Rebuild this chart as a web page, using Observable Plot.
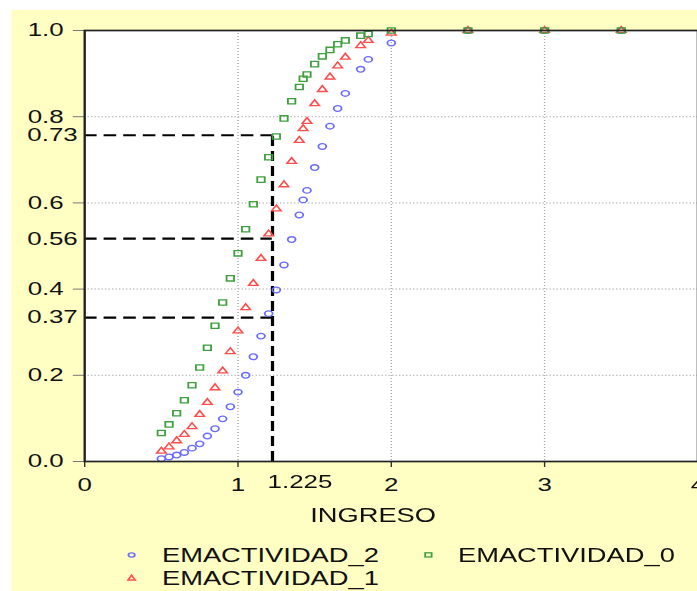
<!DOCTYPE html>
<html>
<head>
<meta charset="utf-8">
<script src="https://cdn.jsdelivr.net/npm/d3@7"></script>
<script src="https://cdn.jsdelivr.net/npm/@observablehq/plot@0.6"></script>
<style>
  html, body { margin: 0; padding: 0; background: #ffffff; overflow: hidden; width: 697px; height: 591px; }
  #wrap { position: absolute; left: 0; top: 0; width: 498px; height: 591px; transform: scaleX(1.4); transform-origin: 0 0; font-family: "Liberation Sans", Arial, sans-serif; }
  #bg { position: absolute; left: 7.86px; top: 10px; right: 0; bottom: 0; background: #ffffc4; }
  #chart { position: absolute; left: 0; top: 0; }
  .lg { position: absolute; font-size: 19.5px; line-height: 20px; color: #111; white-space: nowrap; }
  .sw { position: absolute; overflow: visible; }
</style>
</head>
<body>
<div id="wrap">
  <div id="bg"></div>
  <div id="chart"></div>
  <svg class="sw" style="left:89.6px;top:551px" width="8" height="8"><ellipse cx="4" cy="4" rx="2.3" ry="2.1" fill="none" stroke="#6b6bff" stroke-width="1.3"/></svg>
  <div class="lg" style="left:115.7px;top:545.3px">EMACTIVIDAD_2</div>
  <svg class="sw" style="left:301.7px;top:551px" width="8" height="8"><rect x="1.7" y="1.8" width="4.6" height="4.2" fill="none" stroke="#3f9f3f" stroke-width="1.3"/></svg>
  <div class="lg" style="left:327.1px;top:545.3px">EMACTIVIDAD_0</div>
  <svg class="sw" style="left:89.6px;top:573.5px" width="8" height="8"><polygon points="4,1.2 6.6,6 1.4,6" fill="none" stroke="#ff4d4d" stroke-width="1.3"/></svg>
  <div class="lg" style="left:115.7px;top:568.3px">EMACTIVIDAD_1</div>
</div>
<script>
// ---- data ----
const ingreso = [0.5,0.55,0.6,0.65,0.7,0.75,0.8,0.85,0.9,0.95,1.0,1.05,1.1,1.15,1.2,1.25,1.3,1.35,1.4,1.425,1.45,1.5,1.55,1.6,1.65,1.7,1.8,1.85,2.0,2.5,3.0,3.5];
const emactividad2 = [0.0065,0.0105,0.015,0.021,0.031,0.041,0.059,0.076,0.099,0.127,0.161,0.200,0.243,0.291,0.343,0.398,0.456,0.515,0.572,0.607,0.629,0.682,0.731,0.778,0.819,0.854,0.910,0.933,0.971,1,1,1];
const emactividad1 = [0.024,0.034,0.048,0.063,0.081,0.109,0.137,0.171,0.210,0.255,0.303,0.357,0.413,0.471,0.528,0.586,0.642,0.696,0.745,0.772,0.789,0.830,0.863,0.892,0.918,0.938,0.965,0.977,0.994,1,1,1];
const emactividad0 = [0.066,0.086,0.112,0.142,0.177,0.218,0.264,0.315,0.369,0.425,0.483,0.539,0.597,0.654,0.706,0.754,0.796,0.836,0.869,0.888,0.898,0.922,0.940,0.955,0.968,0.977,0.988,0.992,1.0,1,1,1];
const xTicks = [0,1,2,3,4];
const yTicks = [0,0.2,0.4,0.6,0.8,1.0];
const cutIngreso = 1.225;
const cutLabel = "1.225";
const refLevels = [0.757,0.517,0.334];
const refLabels = ["0.73","0.56","0.37"];
const xLabel = "INGRESO";

const rows = (ys) => ingreso.map((x, i) => ({x, y: ys[i]}));
const refs = refLevels.map((v, i) => ({v, label: refLabels[i]}));

const chart = Plot.plot({
  width: 498,
  height: 530,
  marginLeft: 60,
  marginRight: 0,
  marginTop: 30,
  marginBottom: 69,
  style: {fontFamily: '"Liberation Sans", Arial, sans-serif', fontSize: "18.5px", background: "transparent", overflow: "visible", color: "#111"},
  x: {domain: [0, 4]},
  y: {domain: [0, 1]},
  marks: [
    Plot.frame({fill: "white", stroke: "none"}),
    Plot.ruleX([1,2,3], {stroke: "#aaa", strokeWidth: 1, strokeDasharray: "1,2"}),
    Plot.ruleY([0.2,0.4,0.6,0.8], {stroke: "#aaa", strokeWidth: 1, strokeDasharray: "1,1.5"}),
    Plot.axisY({ticks: yTicks, tickFormat: d3.format(".1f"), tickSize: 8, tickPadding: 7, stroke: "#777", label: null}),
    Plot.axisX({ticks: xTicks, tickFormat: d => String(d), tickSize: 6, tickPadding: 10, stroke: "#333", label: null}),
    Plot.text(refs, {frameAnchor: "left", y: "v", text: "label", textAnchor: "end", dx: -5, fontSize: 18.5}),
    Plot.text([cutIngreso], {x: d => d, frameAnchor: "bottom", text: () => cutLabel, textAnchor: "start", lineAnchor: "top", dx: -3.5, dy: 13, fontSize: 18.5}),
    Plot.text([xLabel], {frameAnchor: "bottom", text: d => d, lineAnchor: "middle", dx: -13, dy: 54, fontSize: 19.5}),
    Plot.ruleY(refLevels, {y: d => d, x1: 0, x2: cutIngreso, stroke: "black", strokeWidth: 2.2, strokeDasharray: "9,5"}),
    Plot.ruleX([cutIngreso], {x: d => d, y1: 0, y2: refLevels[0], stroke: "black", strokeWidth: 2.3, strokeDasharray: "10,5"}),
    Plot.dot(rows(emactividad2), {x: "x", y: "y", symbol: "circle", r: 2.8, stroke: "#6b6bff", strokeWidth: 1.3, fill: "none"}),
    Plot.dot(rows(emactividad1), {x: "x", y: "y", symbol: "triangle", r: 2.5, stroke: "#ff4d4d", strokeWidth: 1.3, fill: "none"}),
    Plot.dot(rows(emactividad0), {x: "x", y: "y", symbol: "square", r: 3.0, stroke: "#3f9f3f", strokeWidth: 1.3, fill: "none"}),
    Plot.frame({stroke: "#222", strokeWidth: 1.7})
  ]
});
document.getElementById("chart").appendChild(chart);
</script>
</body>
</html>
